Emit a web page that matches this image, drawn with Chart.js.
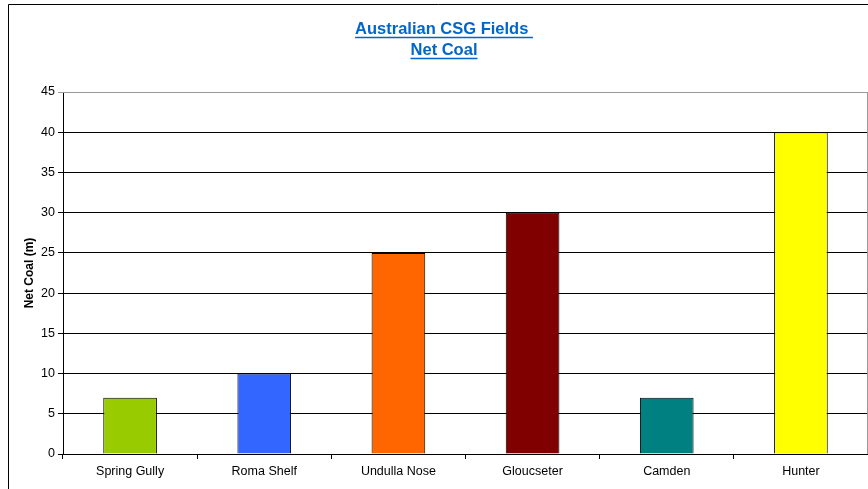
<!DOCTYPE html>
<html>
<head>
<meta charset="utf-8">
<script src="https://cdn.jsdelivr.net/npm/chart.js@4/dist/chart.umd.min.js"></script>
<style>
  html, body { margin: 0; padding: 0; background: #fff; }
  #wrap { position: relative; width: 868px; height: 489px; }
</style>
</head>
<body>
<div id="wrap"><canvas id="csgChart" width="868" height="489"></canvas></div>
<script>
const fields = ['Spring Gully', 'Roma Shelf', 'Undulla Nose', 'Gloucseter', 'Camden', 'Hunter'];
const netCoal = [7, 10, 25, 30, 7, 40];
const barColors = ['#99CC00', '#3366FF', '#FF6600', '#800000', '#008080', '#FFFF00'];
const titleLines = ['Australian CSG Fields ', 'Net Coal'];
const yAxisTitle = 'Net Coal (m)';

const FONT = '"Liberation Sans", Arial, sans-serif';

// frame, underlined title and y title, drawn by hand
const decorPlugin = {
    id: 'decor',
    beforeDraw(chart) {
        const ctx = chart.ctx;
        ctx.save();
        ctx.fillStyle = '#fff';
        ctx.fillRect(0, 0, chart.width, chart.height);
        ctx.strokeStyle = '#000';
        ctx.lineWidth = 1;
        ctx.beginPath();
        ctx.moveTo(8.5, 489);
        ctx.lineTo(8.5, 4.5);
        ctx.lineTo(868, 4.5);
        ctx.stroke();
        ctx.restore();
    },
    afterDraw(chart) {
        const ctx = chart.ctx;
        const cx = 444;
        const baselines = [34, 55];
        ctx.save();
        ctx.font = 'bold 16.5px ' + FONT;
        ctx.fillStyle = '#0066CC';
        ctx.strokeStyle = '#0066CC';
        ctx.textAlign = 'center';
        ctx.textBaseline = 'alphabetic';
        ctx.lineWidth = 1.5;
        titleLines.forEach((t, i) => {
            ctx.fillText(t, cx, baselines[i]);
            const w = ctx.measureText(t).width;
            ctx.beginPath();
            ctx.moveTo(cx - w / 2, baselines[i] + 3.5);
            ctx.lineTo(cx + w / 2, baselines[i] + 3.5);
            ctx.stroke();
        });

        const a = chart.chartArea;
        // y axis title
        ctx.save();
        ctx.translate(30, (a.top + a.bottom) / 2);
        ctx.rotate(-Math.PI / 2);
        ctx.font = 'bold 12px ' + FONT;
        ctx.fillStyle = '#000';
        ctx.textAlign = 'center';
        ctx.textBaseline = 'middle';
        ctx.fillText(yAxisTitle, 0, 0);
        ctx.restore();

        // plot area border (top and right, grey)
        ctx.strokeStyle = '#999';
        ctx.lineWidth = 1;
        ctx.beginPath();
        ctx.moveTo(a.left, a.top + 0.5);
        ctx.lineTo(a.right - 0.5, a.top + 0.5);
        ctx.lineTo(a.right - 0.5, a.bottom);
        ctx.stroke();
        ctx.restore();
    }
};

const ctx = document.getElementById('csgChart').getContext('2d');
new Chart(ctx, {
    type: 'bar',
    data: {
        labels: fields,
        datasets: [{
            data: netCoal,
            backgroundColor: barColors,
            borderColor: '#000',
            borderWidth: 1,
            categoryPercentage: 1,
            barPercentage: 0.4
        }]
    },
    options: {
        responsive: false,
        animation: false,
        devicePixelRatio: 1,
        layout: { padding: { left: 0, right: 0, top: 92, bottom: 0 } },
        plugins: {
            legend: { display: false },
            title: { display: false },
            tooltip: { enabled: false }
        },
        scales: {
            x: {
                grid: {
                    drawOnChartArea: false,
                    drawTicks: true,
                    tickLength: 5,
                    color: '#000',
                    offset: true
                },
                border: { color: '#000', width: 1 },
                ticks: {
                    color: '#000',
                    font: { family: FONT, size: 12.5 },
                    padding: 5,
                    maxRotation: 0
                },
                afterFit(scale) { scale.height = 35; }
            },
            y: {
                min: 0,
                max: 45,
                ticks: {
                    stepSize: 5,
                    color: '#000',
                    font: { family: FONT, size: 12.5 },
                    padding: 3
                },
                grid: {
                    color: (c) => (c.tick && c.tick.value === 45 ? '#999' : '#000'),
                    tickLength: 5
                },
                border: { color: '#000', width: 1 },
                afterFit(scale) { scale.width = 63; }
            }
        }
    },
    plugins: [decorPlugin]
});
</script>
</body>
</html>
